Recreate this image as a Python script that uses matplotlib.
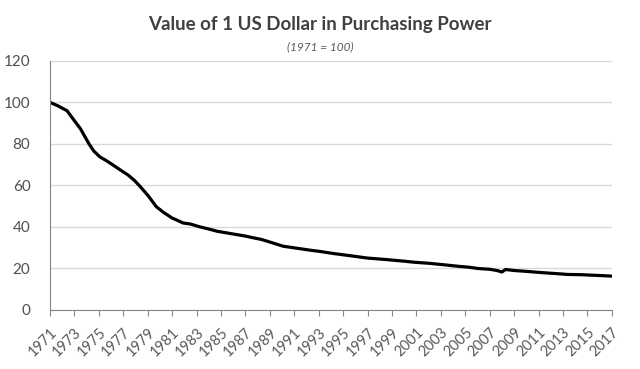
import matplotlib
matplotlib.use("Agg")
import matplotlib.pyplot as plt

plt.rcParams["font.family"] = ["Lato", "DejaVu Sans"]

# Purchasing power of 1 USD (1971 = 100)
years = [1971.0, 1971.6, 1972.4, 1972.8, 1973.5, 1974.2, 1974.6, 1975.1, 1975.6,
         1976.2, 1976.8, 1977.4, 1977.9, 1978.4, 1979.1, 1979.7, 1980.3, 1981.0,
         1981.5, 1981.9, 1982.5, 1983.3, 1984.0, 1984.7, 1985.5, 1986.3, 1987.0,
         1987.7, 1988.3, 1988.8, 1989.5, 1990.1, 1990.8, 1991.5, 1992.3, 1993.1,
         1994.2, 1995.5, 1997.0, 1998.5, 2000.0, 2000.8, 2002.0, 2003.2, 2004.5,
         2005.3, 2006.0, 2007.0, 2007.6, 2008.0, 2008.3, 2009.0, 2010.0, 2010.6,
         2011.5, 2012.5, 2013.4, 2014.5, 2015.2, 2016.0, 2017.0]
values = [100.0, 98.5, 96.0, 92.8, 87.3, 80.0, 76.5, 73.7, 72.0,
          69.7, 67.3, 65.0, 62.5, 59.4, 54.6, 49.8, 47.0, 44.3,
          43.0, 41.9, 41.4, 40.0, 39.0, 37.9, 37.1, 36.3, 35.6,
          34.7, 34.0, 33.1, 31.8, 30.7, 30.1, 29.5, 28.8, 28.2,
          27.2, 26.2, 25.0, 24.3, 23.5, 23.0, 22.5, 21.8, 21.0,
          20.6, 20.0, 19.6, 19.0, 18.3, 19.5, 19.0, 18.6, 18.3,
          17.9, 17.5, 17.1, 17.0, 16.8, 16.6, 16.3]

tick_years = list(range(1971, 2018, 2))
y_ticks = [0, 20, 40, 60, 80, 100, 120]

fig = plt.figure(figsize=(6.4, 3.69), dpi=100)
ax = fig.add_axes([0.078, 0.160, 0.878, 0.675])

ax.plot(years, values, color="black", linewidth=2.3, solid_capstyle="round")

ax.set_xlim(1971, 2017)
ax.set_ylim(0, 120)
ax.set_yticks(y_ticks)
ax.set_xticks(tick_years)
ax.set_xticklabels([str(y) for y in tick_years], rotation=45, ha="right",
                   rotation_mode="anchor", fontsize=10.5, color="#595959")
ax.tick_params(axis="y", length=0, labelsize=11, labelcolor="#505050", pad=14)
ax.tick_params(axis="x", length=4, color="#868686", pad=7)

ax.grid(axis="y", color="#d9d9d9", linewidth=1)
ax.set_axisbelow(True)
for side in ["top", "right"]:
    ax.spines[side].set_visible(False)
ax.spines["left"].set_color("#868686")
ax.spines["bottom"].set_color("#868686")

fig.text(0.5, 0.933, "Value of 1 US Dollar in Purchasing Power", ha="center",
         va="center", fontsize=13.5, fontweight="bold", color="#404040")
fig.text(0.5, 0.873, "(1971 = 100)", ha="center", va="center", fontsize=8.5,
         style="italic", color="#595959")

fig.savefig("out.png", dpi=100)
